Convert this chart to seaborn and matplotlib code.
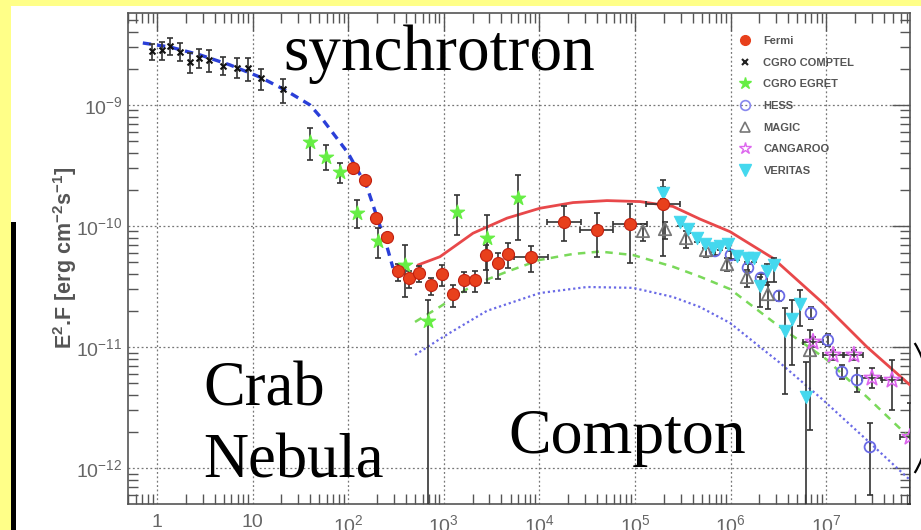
import numpy as np
import pandas as pd
import matplotlib
matplotlib.use("Agg")
import matplotlib.pyplot as plt
import seaborn as sns
from matplotlib.lines import Line2D
from matplotlib.patches import Arc, Rectangle
from matplotlib.ticker import FixedLocator, NullFormatter, LogLocator

# ---------------- data (E in MeV, E^2 F in erg cm^-2 s^-1) ----------------
comptel_E = [0.88, 1.12, 1.37, 1.74, 2.21, 2.77, 3.52, 4.94, 6.9, 9.0, 12.2, 20.9]
comptel_F = [2.79e-9, 2.85e-9, 3.09e-9, 2.73e-9, 2.25e-9, 2.46e-9, 2.35e-9,
             2.11e-9, 2.01e-9, 2.01e-9, 1.68e-9, 1.36e-9]
comptel_dlo = [0.074, 0.083, 0.077, 0.077, 0.091, 0.088, 0.097, 0.077, 0.083, 0.107, 0.10, 0.118]
comptel_dhi = [0.055, 0.069, 0.066, 0.074, 0.074, 0.072, 0.083, 0.074, 0.083, 0.083, 0.072, 0.083]

egret_E = [39.8, 58.6, 82, 123, 205, 393, 684, 1365, 2810, 6030]
egret_F = [4.98e-10, 3.74e-10, 2.81e-10, 1.29e-10, 7.45e-11, 4.76e-11, 1.64e-11,
           1.31e-10, 7.91e-11, 1.69e-10]
egret_dhi = [0.113, 0.097, 0.074, 0.107, 0.107, 0.165, 0.174, 0.138, 0.19, 0.19]
egret_dlo = [0.149, 0.11, 0.096, 0.124, 0.14, 0.264, 2.0, 0.19, 0.372, 0.347]

fermi_E = [111, 150, 193, 255, 328, 430, 553, 731, 958, 1254, 1626, 2138, 2786,
           3647, 4730, 8130, 1.8e4, 3.97e4, 8.87e4, 1.96e5]
fermi_F = [3.04e-10, 2.39e-10, 1.17e-10, 8.04e-11, 4.25e-11, 3.70e-11, 4.10e-11,
           3.25e-11, 4.04e-11, 2.75e-11, 3.56e-11, 3.58e-11, 5.75e-11, 4.90e-11,
           5.87e-11, 5.54e-11, 1.08e-10, 9.27e-11, 1.035e-10, 1.51e-10]
fermi_dhi = [0.03, 0.03, 0.03, 0.03, 0.06, 0.06, 0.06, 0.06, 0.07, 0.07, 0.07, 0.07,
             0.08, 0.09, 0.09, 0.09, 0.13, 0.14, 0.17, 0.2]
fermi_dlo = [0.04, 0.04, 0.04, 0.04, 0.08, 0.08, 0.08, 0.08, 0.1, 0.11, 0.1, 0.1,
             0.12, 0.13, 0.12, 0.12, 0.16, 0.22, 0.32, 0.43]
fermi_dx = [0, 0, 0, 0, 0, 0, 0, 0, 0, 0, 0, 0, 0, 0, 0, 0.175, 0.175, 0.175, 0.175, 0.175]

veritas_E = [1.96e5, 2.96e5, 3.58e5, 4.45e5, 5.40e5, 6.55e5, 7.75e5, 9.40e5, 1.17e6,
             1.48e6, 1.76e6, 2.03e6, 2.43e6, 2.85e6, 3.71e6, 4.36e6, 5.32e6, 6.15e6]
veritas_F = [1.87e-10, 1.07e-10, 9.44e-11, 7.96e-11, 7.10e-11, 6.58e-11, 6.84e-11,
             7.03e-11, 5.60e-11, 5.44e-11, 5.41e-11, 3.19e-11, 4.25e-11, 4.76e-11,
             1.36e-11, 1.70e-11, 2.25e-11, 3.83e-12]
veritas_dhi = [0.05, 0.03, 0.03, 0.03, 0.03, 0.03, 0.03, 0.03, 0.03, 0.03, 0.03,
               0.075, 0.06, 0.06, 0.19, 0.157, 0.12, 0.29]
veritas_dlo = [0.05, 0.03, 0.03, 0.03, 0.03, 0.03, 0.03, 0.03, 0.03, 0.03, 0.03,
               0.17, 0.12, 0.14, 0.52, 0.38, 0.18, 2.0]

magic_E = [1.21e5, 2.06e5, 3.42e5, 5.53e5, 9.17e5, 1.48e6, 2.46e6, 6.77e6]
magic_F = [9.10e-11, 9.44e-11, 7.96e-11, 6.33e-11, 4.85e-11, 3.79e-11, 2.74e-11, 9.44e-12]
magic_dhi = [0.06, 0.06, 0.06, 0.05, 0.05, 0.06, 0.1, 0.165]
magic_dlo = [0.08, 0.08, 0.08, 0.06, 0.06, 0.08, 0.12, 0.66]

hess_E = [6.87e5, 1.01e6, 1.52e6, 2.08e6, 3.21e6, 6.93e6, 1.04e7, 1.46e7, 2.10e7, 2.87e7]
hess_F = [6.21e-11, 5.75e-11, 4.50e-11, 3.72e-11, 2.64e-11, 1.91e-11, 1.14e-11,
          6.21e-12, 5.33e-12, 1.49e-12]
hess_dhi = [0.03, 0.03, 0.03, 0.03, 0.04, 0.05, 0.05, 0.06, 0.1, 0.2]
hess_dlo = [0.03, 0.03, 0.03, 0.03, 0.04, 0.05, 0.05, 0.06, 0.1, 0.4]

cangaroo_E = [7.28e6, 1.18e7, 1.95e7, 3.01e7, 4.88e7, 7.53e7]
cangaroo_F = [1.10e-11, 8.59e-12, 8.59e-12, 5.54e-12, 5.33e-12, 1.80e-12]
cangaroo_dhi = [0.04, 0.04, 0.04, 0.08, 0.165, 0.28]
cangaroo_dlo = [0.04, 0.04, 0.04, 0.08, 0.25, 0.55]
cangaroo_dx = [0.1, 0.1, 0.1, 0.1, 0.1, 0.1]

# model curves
sync_E = [0.71, 1.37, 2.82, 5.8, 11.9, 21.8, 39.8, 54.5, 99.5, 157, 205, 255, 294]
sync_F = [3.25e-9, 3.01e-9, 2.59e-9, 2.14e-9, 1.70e-9, 1.33e-9, 1.0e-9, 7.52e-10,
          4.01e-10, 2.10e-10, 1.12e-10, 6.7e-11, 4.5e-11]
ic_total_E = [537, 912, 2020, 4580, 1.01e4, 2.25e4, 5.09e4, 1.13e5, 2.49e5, 4.78e5,
              9.86e5, 2.78e6, 9.27e6, 2.67e7, 7.53e7]
ic_total_F = [4.76e-11, 5.57e-11, 8.71e-11, 1.16e-10, 1.40e-10, 1.56e-10, 1.62e-10,
              1.59e-10, 1.45e-10, 1.14e-10, 8.97e-11, 5.41e-11, 2.30e-11, 1.00e-11, 4.85e-12]
ic_mid_E = [500, 912, 2020, 4580, 1.01e4, 2.25e4, 4.31e4, 9.53e4, 2.49e5, 4.78e5,
            9.86e5, 3.29e6, 9.95e6, 2.67e7, 7.53e7]
ic_mid_F = [1.61e-11, 2.15e-11, 3.25e-11, 4.19e-11, 5.24e-11, 5.87e-11, 6.14e-11,
            5.75e-11, 4.61e-11, 3.81e-11, 3.01e-11, 1.46e-11, 7.96e-12, 3.86e-12, 1.77e-12]
ic_low_E = [500, 981, 2830, 1.01e4, 3.15e4, 9.53e4, 2.49e5, 4.78e5, 9.86e5, 3.29e6,
            9.27e6, 2.67e7, 7.53e7]
ic_low_F = [8.59e-12, 1.21e-11, 1.99e-11, 2.79e-11, 3.13e-11, 3.08e-11, 2.59e-11,
            2.14e-11, 1.58e-11, 7.38e-12, 3.65e-12, 1.70e-12, 7.96e-13]

legend_labels = ["Fermi", "CGRO COMPTEL", "CGRO EGRET", "HESS", "MAGIC", "CANGAROO", "VERITAS"]
xtick_vals = [1, 10, 1e2, 1e3, 1e4, 1e5, 1e6, 1e7]
xtick_labels = ["1", "10", "10$^2$", "10$^3$", "10$^4$", "10$^5$", "10$^6$", "10$^7$"]
ytick_vals = [1e-12, 1e-11, 1e-10, 1e-9]
ytick_labels = ["10$^{-12}$", "10$^{-11}$", "10$^{-10}$", "10$^{-9}$"]

# ---------------- figure ----------------
sns.set_theme(style="white")
plt.rcParams["font.family"] = ["Liberation Sans", "DejaVu Sans"]
plt.rcParams["mathtext.default"] = "regular"

W, H = 921, 530
fig = plt.figure(figsize=(W / 100, H / 100), dpi=100)
fig.patch.set_facecolor("#FFFF88")
fig.patches.append(Rectangle((11 / W, 0), (W - 11) / W, (H - 6) / H, transform=fig.transFigure,
                             facecolor="white", edgecolor="none", zorder=-3))
fig.patches.append(Rectangle((11 / W, 0), 5 / W, (H - 222) / H, transform=fig.transFigure,
                             facecolor="black", edgecolor="none", zorder=-2))

ax = fig.add_axes([128 / W, (H - 504) / H, (910 - 128) / W, (504 - 13) / H])
ax.set_xscale("log")
ax.set_yscale("log")
ax.set_xlim(0.497, 7.53e7)
ax.set_ylim(5.04e-13, 5.75e-9)
ax.set_facecolor("white")

# grid
for v in xtick_vals:
    ax.axvline(v, color="#777777", lw=0.9, ls=(0, (1.5, 2)), zorder=0.5)
for v in ytick_vals:
    ax.axhline(v, color="#777777", lw=0.9, ls=(0, (1.5, 2)), zorder=0.5)

# model curves
sns.lineplot(x=sync_E, y=sync_F, ax=ax, color="#2a3fd8", lw=2.4, ls=(0, (2.5, 1.8)), sort=False, zorder=3)
sns.lineplot(x=ic_total_E, y=ic_total_F, ax=ax, color="#e8484a", lw=2.0, sort=False, zorder=3)
sns.lineplot(x=ic_mid_E, y=ic_mid_F, ax=ax, color="#7ad95a", lw=1.8, ls=(0, (3, 2.5)), sort=False, zorder=3)
sns.lineplot(x=ic_low_E, y=ic_low_F, ax=ax, color="#6a6ae6", lw=1.6, ls=(0, (1, 1.3)), sort=False, zorder=3)


def yerr(F, dlo, dhi):
    F = np.asarray(F)
    return [F * (1 - 10 ** (-np.asarray(dlo))), F * (10 ** np.asarray(dhi) - 1)]


def xerr(E, dx):
    E = np.asarray(E)
    return [E * (1 - 10 ** (-np.asarray(dx))), E * (10 ** np.asarray(dx) - 1)]


ebk = dict(fmt="none", ecolor="#333333", elinewidth=1.2, capsize=2.5, capthick=1.2, zorder=4)
ax.errorbar(comptel_E, comptel_F, yerr=yerr(comptel_F, comptel_dlo, comptel_dhi), **ebk)
ax.errorbar(egret_E, egret_F, yerr=yerr(egret_F, egret_dlo, egret_dhi), **ebk)
ax.errorbar(fermi_E, fermi_F, yerr=yerr(fermi_F, fermi_dlo, fermi_dhi),
            xerr=xerr(fermi_E, fermi_dx), **ebk)
ax.errorbar(veritas_E, veritas_F, yerr=yerr(veritas_F, veritas_dlo, veritas_dhi), **ebk)
ax.errorbar(magic_E, magic_F, yerr=yerr(magic_F, magic_dlo, magic_dhi), **ebk)
ax.errorbar(hess_E, hess_F, yerr=yerr(hess_F, hess_dlo, hess_dhi), **ebk)
ax.errorbar(cangaroo_E, cangaroo_F, yerr=yerr(cangaroo_F, cangaroo_dlo, cangaroo_dhi),
            xerr=xerr(cangaroo_E, cangaroo_dx), **ebk)

sns.scatterplot(x=comptel_E, y=comptel_F, ax=ax, marker="x", s=18, color="#111111", linewidth=1.5, zorder=5)
sns.scatterplot(x=egret_E, y=egret_F, ax=ax, marker="*", s=115, color="#66ee44", edgecolor="#66ee44", zorder=5)
sns.scatterplot(x=fermi_E, y=fermi_F, ax=ax, marker="o", s=75, color="#e8401c", edgecolor="#c02010",
                linewidth=0.8, zorder=6)
sns.scatterplot(x=hess_E, y=hess_F, ax=ax, marker="o", s=60, facecolor="none", edgecolor="#6a6ae6",
                linewidth=1.3, zorder=5)
sns.scatterplot(x=magic_E, y=magic_F, ax=ax, marker="^", s=80, facecolor="none", edgecolor="#777777",
                linewidth=1.3, zorder=5)
sns.scatterplot(x=cangaroo_E, y=cangaroo_F, ax=ax, marker="*", s=140, facecolor="none", edgecolor="#dd66ee",
                linewidth=1.2, zorder=5)
sns.scatterplot(x=veritas_E, y=veritas_F, ax=ax, marker="v", s=80, color="#44d8ee", edgecolor="#44d8ee",
                zorder=5)

# ticks
ax.xaxis.set_major_locator(FixedLocator(xtick_vals))
ax.set_xticklabels(xtick_labels)
ax.yaxis.set_major_locator(FixedLocator(ytick_vals))
ax.set_yticklabels(ytick_labels)
ax.xaxis.set_minor_locator(LogLocator(base=10, subs=np.arange(2, 10), numticks=20))
ax.yaxis.set_minor_locator(LogLocator(base=10, subs=np.arange(2, 10), numticks=20))
ax.xaxis.set_minor_formatter(NullFormatter())
ax.yaxis.set_minor_formatter(NullFormatter())
ax.tick_params(which="major", direction="in", length=13, width=1.0, color="#555555",
               top=True, right=True, labelsize=14, labelcolor="#666666")
ax.tick_params(which="minor", direction="in", length=7, width=1.0, color="#555555",
               top=True, right=True, left=True, bottom=True)
ax.tick_params(axis="x", which="major", pad=7)
ax.tick_params(axis="y", which="major", pad=4)
for s in ax.spines.values():
    s.set_color("#555555")
    s.set_linewidth(1.2)

# y label
fig.text(65 / W, 1 - 258 / H, "E$^2$.F [erg cm$^{-2}$s$^{-1}$]", rotation=90, ha="center", va="center",
         fontsize=15.5, fontweight="bold", color="#555555")

# legend
handles = [
    Line2D([], [], ls="none", marker="o", ms=7, mfc="#e8401c", mec="#e8401c"),
    Line2D([], [], ls="none", marker="x", ms=4, mec="#222222", mew=1.5),
    Line2D([], [], ls="none", marker="*", ms=9, mfc="#66ee44", mec="#66ee44"),
    Line2D([], [], ls="none", marker="o", ms=7, mfc="none", mec="#8888ee", mew=1.2),
    Line2D([], [], ls="none", marker="^", ms=7, mfc="none", mec="#777777", mew=1.2),
    Line2D([], [], ls="none", marker="*", ms=9, mfc="none", mec="#dd66ee", mew=1.0),
    Line2D([], [], ls="none", marker="v", ms=8, mfc="#44d8ee", mec="#44d8ee"),
]
leg = ax.legend(handles, legend_labels, loc="upper left", bbox_to_anchor=(739 / W, 1 - 36 / H),
                bbox_transform=fig.transFigure, frameon=False, fontsize=8, labelspacing=1.05,
                handlelength=1.0, handletextpad=1.2, borderpad=0, borderaxespad=0)
for t in leg.get_texts():
    t.set_color("#555555")
    t.set_fontweight("bold")

# annotation texts
serif = ["Liberation Serif", "DejaVu Serif"]
fig.text(283 / W, 1 - 70 / H, "synchrotron", family=serif, fontsize=47, color="black", ha="left", va="baseline")
fig.text(203 / W, 1 - 405 / H, "Crab", family=serif, fontsize=45, color="black", ha="left", va="baseline")
fig.text(203 / W, 1 - 478 / H, "Nebula", family=serif, fontsize=45, color="black", ha="left", va="baseline")
fig.text(508 / W, 1 - 453 / H, "Compton", family=serif, fontsize=46, color="black", ha="left", va="baseline")

# bracket fragment at right edge
fig.patches.append(Arc((878 / W, 1 - 408 / H), 106 / W, 180 / H, theta1=-72, theta2=72,
                       transform=fig.transFigure, color="black", lw=1.6, zorder=10))

fig.savefig("out.png", dpi=100, facecolor=fig.get_facecolor())
